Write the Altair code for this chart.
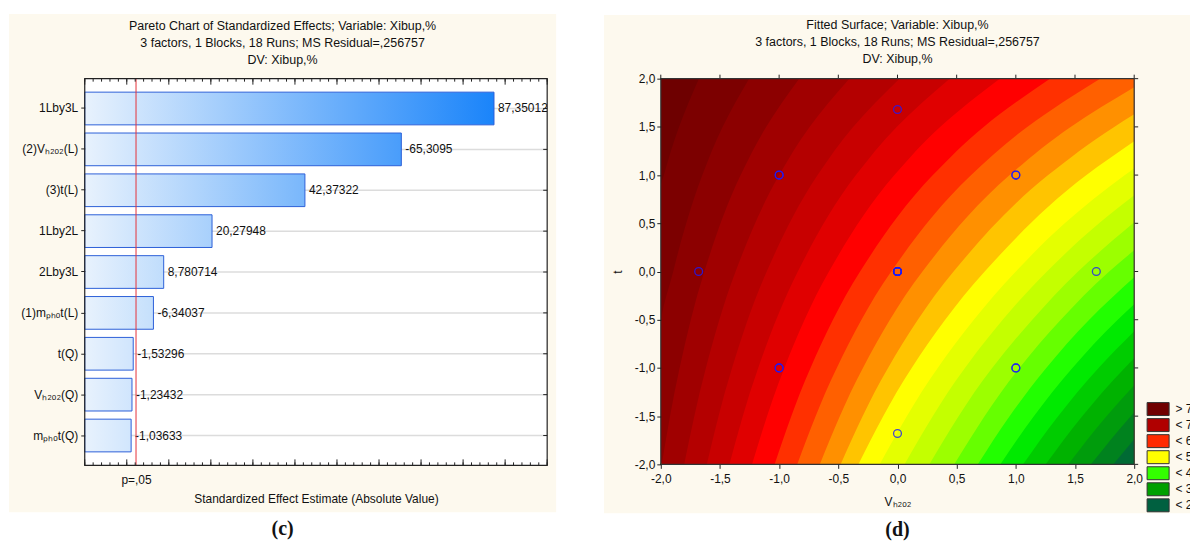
import altair as alt
import pandas as pd

# ---------------- (c) Pareto chart data ----------------
effect_names = ["1Lby3L", "(2)Vₕ₂ₒ₂(L)", "(3)t(L)", "1Lby2L", "2Lby3L",
                "(1)mₚₕₒt(L)", "t(Q)", "Vₕ₂ₒ₂(Q)", "mₚₕₒt(Q)"]
effect_values = [87.35012, -65.3095, 42.37322, 20.27948, 8.780714,
                 -6.34037, -1.53296, -1.23432, -1.03633]
effect_labels = ["87,35012", "-65,3095", "42,37322", "20,27948", "8,780714",
                 "-6,34037", "-1,53296", "-1,23432", "-1,03633"]
p_critical = 2.2
p_label = "p=,05"
pareto_axis_min, pareto_axis_max = -10, 100
pareto_minor_ticks = list(range(-10, 101, 2))
pareto_major_ticks = list(range(-10, 101, 10))
pareto_title = ["Pareto Chart of Standardized Effects; Variable: Xibup,%",
                "3 factors, 1 Blocks, 18 Runs; MS Residual=,256757",
                "DV: Xibup,%"]

# ---------------- (d) fitted surface data ----------------
surface_title = ["Fitted Surface; Variable: Xibup,%",
                 "3 factors, 1 Blocks, 18 Runs; MS Residual=,256757",
                 "DV: Xibup,%"]
axis_ticks = [-2.0, -1.5, -1.0, -0.5, 0.0, 0.5, 1.0, 1.5, 2.0]
# design runs (V_H2O2, t)
design_v = [-1, 1, -1, 1, -1, 1, -1, 1, -1.68, 1.68, 0, 0, 0, 0, 0, 0, 0, 0]
design_t = [-1, -1, 1, 1, -1, -1, 1, 1, 0, 0, -1.68, 1.68, 0, 0, 0, 0, 0, 0]
# contour levels; each boundary = (t, V) points, region "below level" lies to the right
contour_levels = [80, 77.5, 75, 72.5, 70, 67.5, 65, 62.5, 60, 57.5, 55, 52.5,
                  50, 47.5, 45, 42.5, 40, 37.5, 35, 32.5, 30, 27.5, 25, 22.5]
boundary_t = [
    [-2, 2],
    [-2, 0.88, 1, 1.5, 2],
    [-2, -0.59, 0, 0.5, 1, 1.5, 2],
    [-2, -1, 0, 1, 1.5, 2],
    [-2, -1, 0, 1, 1.5, 2],
    [-2, -1, 0, 1, 1.5, 2],
    [-2, -1, 0, 1, 1.5, 2],
    [-2, -1, 0, 1, 1.5, 2],
    [-2, -1, 0, 1, 1.5, 2],
    [-2, -1, 0, 1, 1.5, 2],
    [-2, -1, 0, 1, 1.5, 1.91],
    [-2, -1, 0, 1, 1.5, 1.63],
    [-2, -1, 0, 1, 1.35],
    [-2, -1, 0, 0.5, 1, 1.07],
    [-2, -1, 0, 0.5, 0.79],
    [-2, -1, -0.5, 0, 0.51],
    [-2, -1, -0.5, 0, 0.22],
    [-2, -1.5, -1, -0.5, -0.06],
    [-2, -1.5, -1, -0.5, -0.34],
    [-2, -1.5, -1, -0.62],
    [-2, -1.5, -1, -0.9],
    [-2, -1.5, -1.18],
    [-2, -1.5, -1.46],
    [-2, -1.74],
]
boundary_v = [
    [-2, -2],
    [-2, -2, -1.974, -1.846, -1.678],
    [-2, -2, -1.895, -1.785, -1.649, -1.478, -1.254],
    [-1.992, -1.841, -1.632, -1.325, -1.110, -0.831],
    [-1.802, -1.619, -1.368, -1.0, -0.743, -0.407],
    [-1.611, -1.398, -1.105, -0.675, -0.375, 0.017],
    [-1.420, -1.177, -0.842, -0.351, -0.007, 0.441],
    [-1.229, -0.956, -0.579, -0.026, 0.360, 0.864],
    [-1.038, -0.735, -0.316, 0.299, 0.728, 1.288],
    [-0.847, -0.513, -0.053, 0.623, 1.096, 1.712],
    [-0.656, -0.292, 0.211, 0.948, 1.463, 2.0],
    [-0.480, -0.080, 0.474, 1.273, 1.831, 2.0],
    [-0.330, 0.120, 0.737, 1.597, 2.0],
    [-0.150, 0.340, 1.0, 1.413, 1.922, 2.0],
    [0.060, 0.570, 1.263, 1.703, 2.0],
    [0.270, 0.800, 1.139, 1.526, 2.0],
    [0.480, 1.030, 1.380, 1.789, 2.0],
    [0.679, 0.947, 1.257, 1.620, 2.0],
    [0.870, 1.152, 1.478, 1.861, 2.0],
    [1.061, 1.357, 1.699, 2.0],
    [1.252, 1.561, 1.920, 2.0],
    [1.443, 1.766, 2.0],
    [1.634, 1.971, 2.0],
    [1.824, 2.0],
]
band_colors = ["#6e0000", "#7c0000", "#8c0000", "#a00000", "#b40000", "#c80000",
               "#e00000", "#ff0000", "#ff3000", "#ff6000", "#ff9000", "#ffc400",
               "#ffff00", "#e4ff00", "#c4ff00", "#9cff00", "#66ff00", "#22ff00",
               "#00ea00", "#00cc00", "#00b200", "#009c0c", "#00821e", "#006a34"]
legend_labels = ["> 70", "< 70", "< 60", "< 50", "< 40", "< 30", "< 20"]
legend_colors = ["#700000", "#b00000", "#ff2a00", "#ffff00", "#33ff00", "#00a000", "#006040"]

# ---------------- styling / layout ----------------
FONT = "Liberation Sans"
CREAM = "#fdf9ee"
INK = "#111111"
W1, H1 = 464, 388
W2, H2 = 475, 387
BAR_LIGHT, BAR_DEEP = "#e8f2fd", "#1a84fa"
TITLE_SIZE = 12.5


def mix(c1, c2, f):
    f = max(0.0, min(1.0, f))
    a = [int(c1[i:i + 2], 16) for i in (1, 3, 5)]
    b = [int(c2[i:i + 2], 16) for i in (1, 3, 5)]
    return "#" + "".join("%02x" % round(x + (y - x) * f) for x, y in zip(a, b))


magnitudes = [abs(v) for v in effect_values]
span = max(magnitudes) - pareto_axis_min
grads = [{"gradient": "linear", "x1": 0, "y1": 0, "x2": 1, "y2": 0,
          "stops": [{"offset": 0, "color": BAR_LIGHT},
                    {"offset": 1, "color": mix(BAR_LIGHT, BAR_DEEP, (m - pareto_axis_min) / span)}]}
         for m in magnitudes]

bars_df = pd.DataFrame({"effect": effect_names, "magnitude": magnitudes,
                        "label": effect_labels, "grad": grads})
one = pd.DataFrame({"k": [0]})

x_scale = alt.Scale(domain=[pareto_axis_min, pareto_axis_max], nice=False, zero=False)
x_axis_l = alt.Axis(values=[p_critical], labelExpr="'" + p_label + "'",
                    ticks=False, tickSize=0, domain=False, grid=False,
                    labelPadding=9, labelFontSize=12, labelFont=FONT, labelColor=INK,
                    title="Standardized Effect Estimate (Absolute Value)",
                    titleFont=FONT, titleFontSize=12, titleFontWeight="normal",
                    titleColor=INK, titlePadding=8, zindex=1)
x_enc = alt.X("magnitude:Q", scale=x_scale, axis=x_axis_l)
y_enc = alt.Y("effect:N", sort=effect_names,
              scale=alt.Scale(paddingInner=0.2, paddingOuter=0.33),
              axis=alt.Axis(title=None, domain=False, grid=False, tickSize=4, tickColor="#222",
                            labelPadding=3, labelFontSize=12, labelFont=FONT, labelColor=INK,
                            zindex=1))

cream_l = alt.Chart(one).mark_rect(color=CREAM).encode(
    x=alt.value(-76), x2=alt.value(473), y=alt.value(-65), y2=alt.value(435))
title_l = alt.Chart(one).mark_text(text=pareto_title, font=FONT, fontSize=TITLE_SIZE,
                                   lineHeight=17, align="center", baseline="top",
                                   color=INK).encode(
    x=alt.value(198.5), y=alt.value(-58.5))
white_l = alt.Chart(one).mark_rect(color="white").encode(
    x=alt.value(0), x2=alt.value(W1), y=alt.value(0), y2=alt.value(H1))
grid_l = alt.Chart(bars_df).mark_rule(color="#dcdcdc", strokeWidth=1.5).encode(
    y=y_enc, x=alt.value(0), x2=alt.value(W1))
bars = alt.Chart(bars_df).mark_bar(stroke="#2c5fd8", strokeWidth=1).encode(
    y=y_enc, x=x_enc, x2=alt.datum(pareto_axis_min), fill=alt.Fill("grad:N", scale=None))
texts = alt.Chart(bars_df).mark_text(align="left", baseline="middle", dx=4, fontSize=12,
                                     font=FONT, color=INK, clip=True).encode(
    y=y_enc, x=x_enc, text="label:N")
redline = alt.Chart(one).mark_rule(color="#e53238", strokeWidth=1).encode(x=alt.datum(p_critical))

minor_df = pd.DataFrame({"tick": pareto_minor_ticks})
major_df = pd.DataFrame({"tick": pareto_major_ticks})
tx = alt.X("tick:Q", scale=x_scale, axis=x_axis_l)
minor_top = alt.Chart(minor_df).mark_rule(color="#222").encode(x=tx, y=alt.value(0), y2=alt.value(3))
minor_bot = alt.Chart(minor_df).mark_rule(color="#222").encode(x=tx, y=alt.value(H1 - 3), y2=alt.value(H1))
major_top = alt.Chart(major_df).mark_rule(color="#222").encode(x=tx, y=alt.value(0), y2=alt.value(6))
major_bot = alt.Chart(major_df).mark_rule(color="#222").encode(x=tx, y=alt.value(H1 - 6), y2=alt.value(H1))
row_ticks = alt.Chart(bars_df).mark_rule(color="#222").encode(
    y=y_enc, x=alt.value(W1 - 4), x2=alt.value(W1))
frame_l = alt.Chart(one).mark_rect(filled=False, stroke="#222", strokeWidth=1.2).encode(
    x=alt.value(0), x2=alt.value(W1), y=alt.value(0), y2=alt.value(H1))
caption_c = alt.Chart(one).mark_text(text="(c)", font="Liberation Serif", fontSize=20,
                                     fontWeight="bold", color=INK, baseline="middle").encode(
    x=alt.value(198.5), y=alt.value(452))

left = alt.layer(cream_l, title_l, white_l, grid_l, bars, texts, redline, minor_top, minor_bot,
                 major_top, major_bot, row_ticks, frame_l, caption_c).properties(
    width=W1, height=H1)

# ---------------- right panel ----------------
sx = alt.Scale(domain=[-2, 2], nice=False, zero=False)
sy = alt.Scale(domain=[-2, 2], nice=False, zero=False)
comma_fmt = "replace(replace(format(datum.value, '.1f'), '.', ','), '\u2212', '-')"
x_axis_r = alt.Axis(values=axis_ticks, labelExpr=comma_fmt, tickSize=4, tickColor="#222",
                    domain=False, grid=False, labelPadding=5, labelFontSize=12,
                    labelFont=FONT, labelColor=INK, labelFlush=False, labelOverlap=False,
                    title="Vₕ₂ₒ₂", titleFont=FONT, titleFontSize=12,
                    titleFontWeight="normal", titleColor=INK, titlePadding=12, zindex=1)
y_axis_r = alt.Axis(values=axis_ticks, labelExpr=comma_fmt, tickSize=4, tickColor="#222",
                    domain=False, grid=False, labelPadding=2, labelFontSize=12,
                    labelFont=FONT, labelColor=INK, labelFlush=False, labelOverlap=False,
                    title="t", titleFont=FONT, titleFontSize=12,
                    titleFontWeight="normal", titleColor=INK, titlePadding=10, zindex=1)

cream_r = alt.Chart(one).mark_rect(color=CREAM).encode(
    x=alt.value(-57), x2=alt.value(560), y=alt.value(-64), y2=alt.value(436))
title_r = alt.Chart(one).mark_text(text=surface_title, font=FONT, fontSize=TITLE_SIZE,
                                   lineHeight=17, align="center", baseline="top",
                                   color=INK).encode(
    x=alt.value(W2 / 2), y=alt.value(-59.5))

bands = []
for lvl, ts, vs, col in zip(contour_levels, boundary_t, boundary_v, band_colors):
    df = pd.DataFrame({"t": ts, "v": vs, "level": [lvl] * len(ts)})
    bands.append(
        alt.Chart(df).mark_area(orient="horizontal", interpolate="monotone", color=col,
                                clip=True).encode(
            y=alt.Y("t:Q", scale=sy, axis=y_axis_r),
            x=alt.X("v:Q", scale=sx, axis=x_axis_r, stack=None),
            x2=alt.datum(2.0)))

legend_df = pd.DataFrame({"label": legend_labels})
legend_layer = alt.Chart(legend_df).mark_square(size=1, opacity=1).encode(
    x=alt.datum(-2.0), y=alt.datum(-2.0),
    color=alt.Color("label:N",
                    scale=alt.Scale(domain=legend_labels, range=legend_colors),
                    legend=alt.Legend(orient="none", legendX=492, legendY=324.5, title=None,
                                      symbolType="M-1.7,-1H1.7V1H-1.7Z", symbolSize=169,
                                      symbolStrokeWidth=1, symbolStrokeColor="#333",
                                      symbolOpacity=1,
                                      labelFontSize=12, labelFont=FONT,
                                      labelColor=INK, labelOffset=10.5, rowPadding=-1.9,
                                      padding=0)))

design_df = pd.DataFrame({"V": design_v, "t": design_t})
points = alt.Chart(design_df).mark_point(shape="circle", filled=False, size=62, strokeWidth=1.3,
                                         color="#1a1aff", opacity=0.8).encode(
    x=alt.X("V:Q", scale=sx, axis=x_axis_r),
    y=alt.Y("t:Q", scale=sy, axis=y_axis_r))

tick_df = pd.DataFrame({"tick": axis_ticks})
top_ticks = alt.Chart(tick_df).mark_rule(color="#222").encode(
    x=alt.X("tick:Q", scale=sx, axis=x_axis_r), y=alt.value(-4), y2=alt.value(0))
right_ticks = alt.Chart(tick_df).mark_rule(color="#222").encode(
    y=alt.Y("tick:Q", scale=sy, axis=y_axis_r), x=alt.value(W2), x2=alt.value(W2 + 4))
frame_r = alt.Chart(one).mark_rect(filled=False, stroke="#333", strokeWidth=1.2).encode(
    x=alt.value(0), x2=alt.value(W2), y=alt.value(0), y2=alt.value(H2))
caption_d = alt.Chart(one).mark_text(text="(d)", font="Liberation Serif", fontSize=20,
                                     fontWeight="bold", color=INK, baseline="middle").encode(
    x=alt.value(237.5), y=alt.value(453))

right = alt.layer(cream_r, title_r, *bands, legend_layer, points, top_ticks, right_ticks,
                  frame_r, caption_d).properties(width=W2, height=H2)

chart = alt.hconcat(left, right, spacing=46).resolve_legend(color="independent").properties(
    padding={"left": 0, "top": 4, "right": -30, "bottom": 0},
    background="white",
).configure_view(strokeWidth=0).configure(font=FONT)

chart.save("out.html", embed_options={"renderer": "svg", "actions": False})
